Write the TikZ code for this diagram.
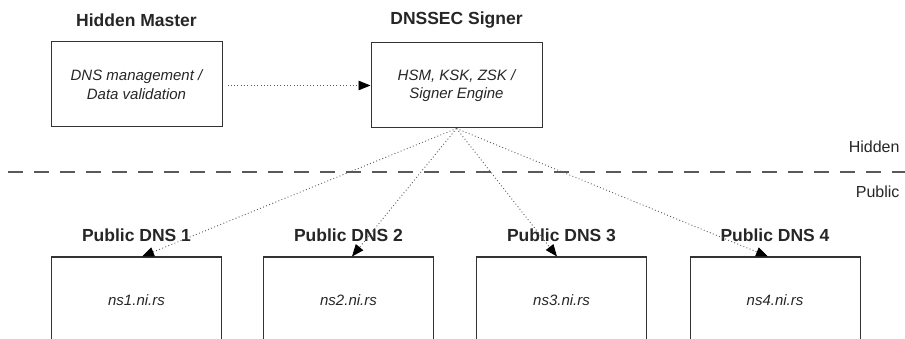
\documentclass[tikz,border=0pt]{standalone}
\usepackage{fontspec}
\setmainfont{Liberation Sans}
\usetikzlibrary{arrows.meta}

\begin{document}
\begin{tikzpicture}[x=1pt, y=-1pt,
    box/.style={draw=black!80, line width=1pt, minimum width=171pt, minimum height=85pt,
        align=center, font=\fontsize{15}{18.5}\selectfont\itshape, text=black!85},
    title/.style={font=\fontsize{17.5}{20}\selectfont\bfseries, text=black!85},
    zone/.style={font=\fontsize{16}{19}\selectfont, text=black!85, anchor=east},
    feed/.style={draw=black!65, line width=0.9pt, dash pattern=on 0.9pt off 2.4pt,
        -{Triangle[length=12pt, width=9.5pt, black]}}]
    \useasboundingbox (0,0) rectangle (905,339);

    % hidden side
    \node[title] (mastertitle) at (136.5,20) {Hidden Master};
    \node[box] (master) at (136.5,84.5) {DNS management /\\ Data validation};
    \node[title] (signertitle) at (456.5,20) {DNSSEC Signer};
    \node[box] (signer) at (456.5,85.5) {HSM, KSK, ZSK /\\ Signer Engine};
    \draw[feed, shorten <=5pt] (master.east |- signer.west) -- (signer.west);

    % border between hidden and public
    \coordinate (borderleft) at (8,172);
    \coordinate (borderright) at (905,172);
    \draw[black!65, line width=1.5pt, dash pattern=on 15pt off 11pt] (borderleft) -- (borderright);
    \node[zone] (hidden) at (903,147) {Hidden};
    \node[zone] (public) at (903,192) {Public};

    % public side
    \node[title] (dnstitle1) at (136.5,235) {Public DNS 1};
    \node[box, minimum width=170pt, minimum height=87pt] (dns1) at (136.5,300.5) {ns1.ni.rs};
    \node[title] (dnstitle2) at (348.5,235) {Public DNS 2};
    \node[box, minimum width=170pt, minimum height=87pt] (dns2) at (348.5,300.5) {ns2.ni.rs};
    \node[title] (dnstitle3) at (561.5,235) {Public DNS 3};
    \node[box, minimum width=170pt, minimum height=87pt] (dns3) at (561.5,300.5) {ns3.ni.rs};
    \node[title] (dnstitle4) at (775,235) {Public DNS 4};
    \node[box, minimum width=170pt, minimum height=87pt] (dns4) at (775,300.5) {ns4.ni.rs};

    % zone transfers from the signer
    \draw[feed] (signer.south) -- ([xshift=5.5pt]dns1.north);
    \draw[feed] (signer.south) -- ([xshift=3.5pt]dns2.north);
    \draw[feed] (signer.south) -- ([xshift=-4.5pt]dns3.north);
    \draw[feed] (signer.south) -- ([xshift=-7pt]dns4.north);
\end{tikzpicture}
\end{document}
